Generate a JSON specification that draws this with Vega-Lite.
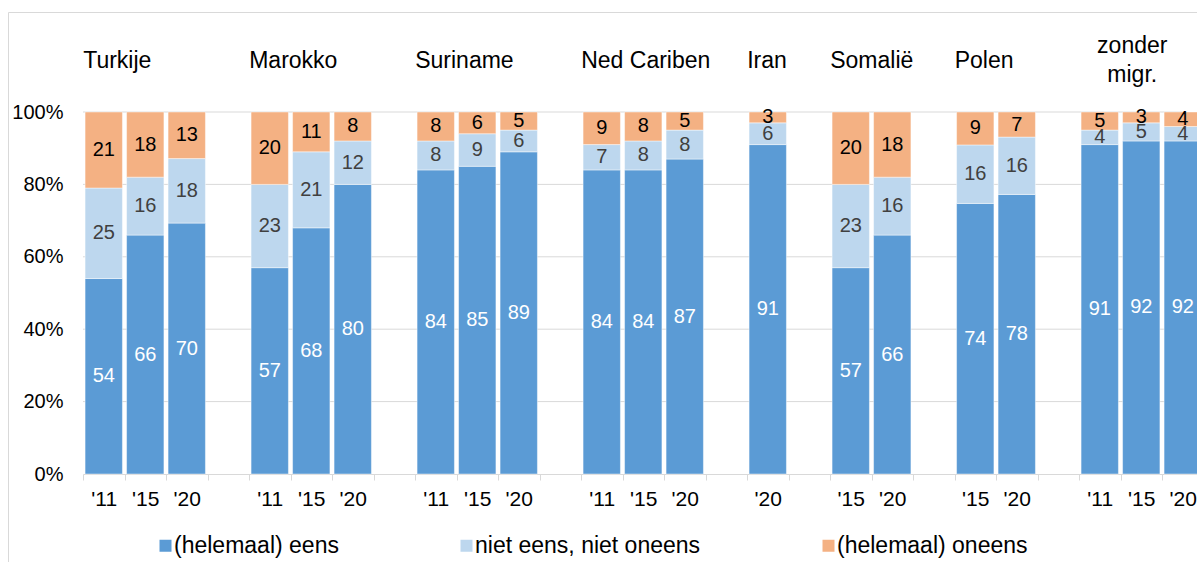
{
  "$schema": "https://vega.github.io/schema/vega-lite/v6.json",
  "autosize": "none",
  "width": 1189,
  "height": 550,
  "padding": {"left": 8, "top": 12, "right": 0, "bottom": 0},
  "background": "white",
  "config": {
    "font": "Liberation Sans",
    "view": {"stroke": "#d9d9d9", "strokeWidth": 1}
  },
  "layer": [
    {
      "data": {"values": [{"g": 0.2}, {"g": 0.4}, {"g": 0.6}, {"g": 0.8}, {"g": 1.0}]},
      "mark": {"type": "rule", "color": "#d9d9d9", "strokeWidth": 1},
      "encoding": {
        "y": {"field": "g", "type": "quantitative", "title": null},
        "x": {"datum": "Turkije|'11", "type": "nominal", "bandPosition": -0.055, "title": null},
        "x2": {"datum": "zonder migr.|'20"}
      }
    },
    {
      "data": {"values": [
        {"slot": "Turkije|'11", "(helemaal) eens": 54, "niet eens, niet oneens": 25, "(helemaal) oneens": 21},
        {"slot": "Turkije|'15", "(helemaal) eens": 66, "niet eens, niet oneens": 16, "(helemaal) oneens": 18},
        {"slot": "Turkije|'20", "(helemaal) eens": 70, "niet eens, niet oneens": 18, "(helemaal) oneens": 13},
        {"slot": "Marokko|'11", "(helemaal) eens": 57, "niet eens, niet oneens": 23, "(helemaal) oneens": 20},
        {"slot": "Marokko|'15", "(helemaal) eens": 68, "niet eens, niet oneens": 21, "(helemaal) oneens": 11},
        {"slot": "Marokko|'20", "(helemaal) eens": 80, "niet eens, niet oneens": 12, "(helemaal) oneens": 8},
        {"slot": "Suriname|'11", "(helemaal) eens": 84, "niet eens, niet oneens": 8, "(helemaal) oneens": 8},
        {"slot": "Suriname|'15", "(helemaal) eens": 85, "niet eens, niet oneens": 9, "(helemaal) oneens": 6},
        {"slot": "Suriname|'20", "(helemaal) eens": 89, "niet eens, niet oneens": 6, "(helemaal) oneens": 5},
        {"slot": "Ned Cariben|'11", "(helemaal) eens": 84, "niet eens, niet oneens": 7, "(helemaal) oneens": 9},
        {"slot": "Ned Cariben|'15", "(helemaal) eens": 84, "niet eens, niet oneens": 8, "(helemaal) oneens": 8},
        {"slot": "Ned Cariben|'20", "(helemaal) eens": 87, "niet eens, niet oneens": 8, "(helemaal) oneens": 5},
        {"slot": "Iran|'20", "(helemaal) eens": 91, "niet eens, niet oneens": 6, "(helemaal) oneens": 3},
        {"slot": "Somalië|'15", "(helemaal) eens": 57, "niet eens, niet oneens": 23, "(helemaal) oneens": 20},
        {"slot": "Somalië|'20", "(helemaal) eens": 66, "niet eens, niet oneens": 16, "(helemaal) oneens": 18},
        {"slot": "Polen|'15", "(helemaal) eens": 74, "niet eens, niet oneens": 16, "(helemaal) oneens": 9},
        {"slot": "Polen|'20", "(helemaal) eens": 78, "niet eens, niet oneens": 16, "(helemaal) oneens": 7},
        {"slot": "zonder migr.|'11", "(helemaal) eens": 91, "niet eens, niet oneens": 4, "(helemaal) oneens": 5},
        {"slot": "zonder migr.|'15", "(helemaal) eens": 92, "niet eens, niet oneens": 5, "(helemaal) oneens": 3},
        {"slot": "zonder migr.|'20", "(helemaal) eens": 92, "niet eens, niet oneens": 4, "(helemaal) oneens": 4}
      ]},
      "transform": [
        {"fold": ["(helemaal) eens", "niet eens, niet oneens", "(helemaal) oneens"], "as": ["c", "v"]},
        {"calculate": "indexof(['(helemaal) eens', 'niet eens, niet oneens', '(helemaal) oneens'], datum.c)", "as": "k"},
        {"stack": "v", "groupby": ["slot"], "sort": [{"field": "k", "order": "ascending"}], "offset": "normalize", "as": ["y0", "y1"]},
        {"calculate": "(datum.y0 + datum.y1) / 2", "as": "mid"}
      ],
      "layer": [
        {
          "mark": {"type": "bar", "stroke": "white", "strokeWidth": 0.75, "strokeOpacity": 0.6},
          "encoding": {
            "x": {
              "field": "slot", "type": "nominal", "title": null,
              "scale": {
                "domain": ["Turkije|'11", "Turkije|'15", "Turkije|'20", "g1",
                           "Marokko|'11", "Marokko|'15", "Marokko|'20", "g2",
                           "Suriname|'11", "Suriname|'15", "Suriname|'20", "g3",
                           "Ned Cariben|'11", "Ned Cariben|'15", "Ned Cariben|'20", "g4",
                           "Iran|'20", "g5",
                           "Somalië|'15", "Somalië|'20", "g6",
                           "Polen|'15", "Polen|'20", "g7",
                           "zonder migr.|'11", "zonder migr.|'15", "zonder migr.|'20"],
                "range": [75, 1195.5],
                "paddingInner": 0.1,
                "paddingOuter": 0.05
              },
              "axis": {
                "title": null,
                "labelExpr": "indexof(datum.label, '|') >= 0 ? split(datum.label, '|')[1] : ''",
                "tickOffset": -20.75,
                "labelOffset": 20.75,
                "tickSize": 6,
                "tickColor": "#d9d9d9",
                "domainColor": "#d9d9d9",
                "labelFontSize": 21,
                "labelFont": "Liberation Sans",
                "labelColor": "#000000",
                "labelPadding": 8,
                "labelAngle": 0,
                "labelAlign": "center",
                "labelBaseline": "top",
                "offset": -88,
                "grid": false
              }
            },
            "y": {
              "field": "y0", "type": "quantitative", "title": null,
              "scale": {"domain": [0, 1], "range": [462, 100], "nice": false},
              "axis": {
                "title": null,
                "values": [0, 0.2, 0.4, 0.6, 0.8, 1],
                "format": ".0%",
                "grid": false,
                "domain": false,
                "ticks": false,
                "labelPadding": 20,
                "offset": -75,
                "labelFontSize": 20,
                "labelFont": "Liberation Sans",
                "labelColor": "#000000"
              }
            },
            "y2": {"field": "y1"},
            "color": {
              "field": "c", "type": "nominal",
              "scale": {
                "domain": ["(helemaal) eens", "niet eens, niet oneens", "(helemaal) oneens"],
                "range": ["#5B9BD5", "#BDD7EE", "#F4B183"]
              },
              "legend": {
                "title": null,
                "orient": "none",
                "legendX": 146,
                "legendY": 522,
                "direction": "horizontal",
                "columns": 3,
                "symbolType": "square",
                "symbolSize": 144,
                "symbolStrokeWidth": 0,
                "labelFontSize": 23,
                "labelFont": "Liberation Sans",
                "labelColor": "#000000",
                "labelLimit": 500,
                "labelOffset": -3,
                "columnPadding": 116
              }
            }
          }
        },
        {
          "mark": {"type": "text", "fontSize": 20, "align": "center", "baseline": "middle", "font": "Liberation Sans"},
          "encoding": {
            "x": {"field": "slot", "type": "nominal", "title": null},
            "y": {"field": "mid", "type": "quantitative", "title": null},
            "text": {"field": "v", "type": "quantitative"},
            "color": {
              "condition": [
                {"test": "datum.k == 0", "value": "#ffffff"},
                {"test": "datum.k == 1", "value": "#404040"}
              ],
              "value": "#000000"
            }
          }
        }
      ]
    },
    {
      "data": {"values": [
        {"slot": "Turkije|'11", "name": "Turkije"},
        {"slot": "Marokko|'11", "name": "Marokko"},
        {"slot": "Suriname|'11", "name": "Suriname"},
        {"slot": "Ned Cariben|'11", "name": "Ned Cariben"},
        {"slot": "Iran|'20", "name": "Iran"},
        {"slot": "Somalië|'15", "name": "Somalië"},
        {"slot": "Polen|'15", "name": "Polen"}
      ]},
      "mark": {"type": "text", "fontSize": 23, "align": "left", "baseline": "middle", "font": "Liberation Sans", "color": "#000000"},
      "encoding": {
        "x": {"field": "slot", "type": "nominal", "bandPosition": -0.05, "title": null},
        "y": {"datum": 1.14},
        "text": {"field": "name"}
      }
    },
    {
      "data": {"values": [{"slot": "zonder migr.|'15", "name": "zonder\nmigr."}]},
      "mark": {"type": "text", "fontSize": 23, "align": "center", "baseline": "middle", "font": "Liberation Sans", "color": "#000000", "lineBreak": "\n", "lineHeight": 29, "dx": -9, "dy": -15},
      "encoding": {
        "x": {"field": "slot", "type": "nominal", "title": null},
        "y": {"datum": 1.14},
        "text": {"field": "name"}
      }
    }
  ]
}
